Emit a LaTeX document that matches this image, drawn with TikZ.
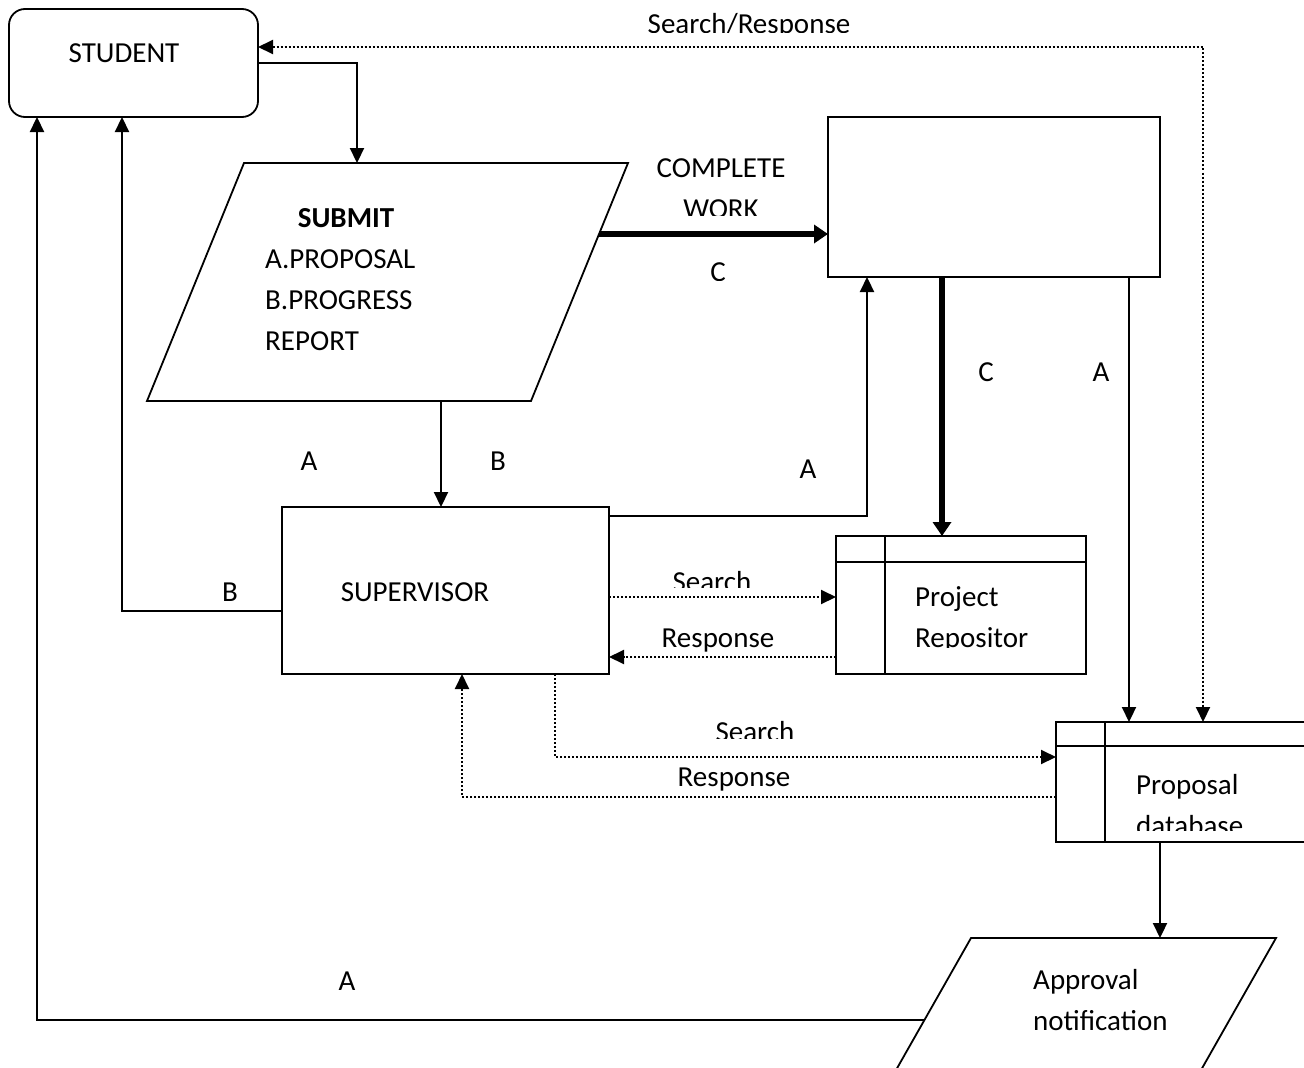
\documentclass[tikz,border=0pt]{standalone}
\usepackage{fontspec}
\setmainfont{Carlito}
\usetikzlibrary{arrows.meta}
\begin{document}
\begin{tikzpicture}[x=1pt,y=-1pt,
  box/.style={draw,line width=1.8pt,inner sep=0pt,outer sep=0pt},
  shp/.style={line width=1.8pt},
  tip/.tip={Triangle[length=15pt,width=14pt]},
  arr/.style={line width=2.2pt,-tip},
  thk/.style={line width=5.5pt,-{Triangle[length=14pt,width=18pt]}},
  dotarr/.style={line width=2pt,dash pattern=on 2pt off 2pt,-tip},
  txt/.style={font=\fontsize{29}{41}\selectfont,inner sep=0pt,anchor=base},
  txtl/.style={txt,anchor=base west}]
\useasboundingbox (0,0) rectangle (1304,1068);

% ---- shapes ----
\node[box,rounded corners=16pt,minimum width=249pt,minimum height=108pt] (student) at (133.5,63) {};
\node[box,minimum width=332pt,minimum height=160pt] (topbox) at (994,197) {};
\node[box,minimum width=327pt,minimum height=167pt] (supervisor) at (445.5,590.5) {};
\node[box,minimum width=250pt,minimum height=138pt] (repo) at (961,605) {};
\node[box,minimum width=274pt,minimum height=120pt] (propdb) at (1193,782) {};
\draw[shp] (836,562) -- (1086,562);
\draw[shp] (885,536) -- (885,674);
\draw[shp] (1056,746) -- (1330,746);
\draw[shp] (1105,722) -- (1105,842);

% submit parallelogram
\draw[shp] (244,163) -- (628,163) -- (531,401) -- (147,401) -- cycle;
\coordinate (subT) at (357,163);
\coordinate (subB) at (441,401);
\coordinate (subR) at (599,234);
% approval parallelogram
\draw[shp] (879,1100) -- (971,938) -- (1276,938) -- (1184,1100);
\coordinate (apT) at (1160,938);
\coordinate (apL) at (924,1020);

% ---- connectors ----
\draw[arr] (student.east |- 0,63) -| (subT);
\draw[dotarr,tip-tip]
  (student.east |- 0,47) -| (propdb.north -| 1203,0);
\draw[thk] (subR) -- (topbox.west |- 0,234);
\draw[thk] (topbox.south -| 942,0) -- (repo.north -| 942,0);
\draw[arr] (topbox.south -| 1129,0) -- (propdb.north -| 1129,0);
\draw[arr] (subB) -- (supervisor.north -| 441,0);
\draw[arr] (supervisor.east |- 0,516) -| (topbox.south -| 867,0);
\draw[arr] (supervisor.west |- 0,611) -| (student.south -| 122,0);
\draw[arr] (apL) -| (student.south -| 37,0);
\draw[dotarr] (supervisor.east |- 0,597) -- (repo.west |- 0,597);
\draw[dotarr] (repo.west |- 0,657) -- (supervisor.east |- 0,657);
\draw[dotarr] (supervisor.south -| 555,0) |- (propdb.west |- 0,757);
\draw[dotarr] (propdb.west |- 0,797) -| (supervisor.south -| 462,0);
\draw[arr] (propdb.south -| 1160,0) -- (apT);

% ---- texts ----
\node[txt] (tstudent) at (124,62) {STUDENT};
\begin{scope}
  \clip (600,0) rectangle (900,32);
  \node[txt] (tsr) at (749,33) {Search/Response};
\end{scope}
\node[txt,font=\fontsize{29}{41}\selectfont\bfseries] (tsubmit) at (346,227) {SUBMIT};
\node[txtl] (tprop) at (265,268) {A.PROPOSAL};
\node[txtl] (tprog) at (265,309) {B.PROGRESS};
\node[txtl] (trep) at (265,350) {REPORT};
\node[txt] (tcomplete) at (721,177) {COMPLETE};
\begin{scope}
  \clip (640,190) rectangle (800,215);
  \node[txt] (twork) at (721,218) {WORK};
\end{scope}
\begin{scope}
  \clip (690,250) rectangle (746,280);
  \node[txt] (tc1) at (718,281) {C};
\end{scope}
\node[txt] (tc2) at (986,381) {C};
\node[txt] (ta1) at (1101,381) {A};
\node[txt] (ta2) at (309,470) {A};
\node[txt] (tb1) at (498,470) {B};
\node[txt] (ta3) at (808,478) {A};
\node[txt] (tb2) at (230,601) {B};
\node[txt] (tsup) at (415,601) {SUPERVISOR};
\begin{scope}
  \clip (650,560) rectangle (780,587);
  \node[txt] (ts1) at (712,591) {Search};
\end{scope}
\node[txt] (tr1) at (718,647) {Response};
\node[txtl] (tproj) at (915,606) {Project};
\begin{scope}
  \clip (900,610) rectangle (1080,647);
  \node[txtl] (trepo) at (915,647) {Repositor};
\end{scope}
\begin{scope}
  \clip (690,710) rectangle (820,738);
  \node[txt] (ts2) at (755,741) {Search};
\end{scope}
\node[txt] (tr2) at (734,786) {Response};
\node[txtl] (tpd) at (1136,794) {Proposal};
\begin{scope}
  \clip (1120,800) rectangle (1300,830);
  \node[txtl] (tdb) at (1136,835) {database};
\end{scope}
\node[txtl] (tapp) at (1033,989) {Approval};
\node[txtl] (tnot) at (1033,1030) {notification};
\node[txt] (ta4) at (347,990) {A};
\end{tikzpicture}
\end{document}
